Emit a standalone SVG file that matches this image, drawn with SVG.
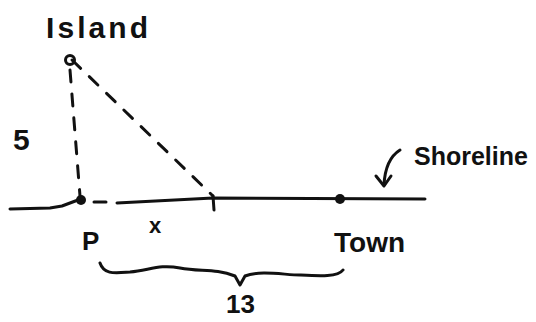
<svg xmlns="http://www.w3.org/2000/svg" width="536" height="322" viewBox="0 0 536 322">
<style>
.ln{fill:none;stroke:#111;stroke-width:3;stroke-linecap:round;stroke-linejoin:round}
.dash{stroke-dasharray:12 12}
.t{font-family:"Liberation Sans",Arial,sans-serif;fill:#111;font-weight:bold}
</style>
<rect width="536" height="322" fill="#fff"/>
<g id="connectors">
<path class="ln" d="M10,209 L50,208 L62,206 L78,200"/>
<path class="ln dash" d="M94,202 L117,202"/>
<path class="ln" d="M117,203 L213,198 L425,199"/>
<path class="ln dash" d="M70,70 L80,196"/>
<path class="ln dash" d="M72,60 L213,196"/>
<path class="ln" d="M213,196 L214,210"/>
<path class="ln" d="M400,150 C392,155 385,165 384,185"/>
<path class="ln" d="M376,176 L384,186 L391,176"/>
<path class="ln" d="M100,263 C104,275 115,273 130,272 C150,270 160,264 180,268 C200,272 215,268 235,276 L240,285 L245,276 C260,270 285,275 300,275 C320,276 338,277 343,270"/>
</g>
<g id="island">
<circle cx="70" cy="60" r="4.5" fill="none" stroke="#111" stroke-width="3"/>
<text class="t" x="46" y="38" font-size="30" textLength="102" lengthAdjust="spacing">Island</text>
</g>
<g id="p">
<circle cx="81" cy="200" r="5" fill="#111"/>
<text class="t" x="82" y="250" font-size="26">P</text>
</g>
<g id="town">
<circle cx="340" cy="199" r="5" fill="#111"/>
<text class="t" x="334" y="252" font-size="28">Town</text>
</g>
<g id="labels">
<text class="t" x="13" y="150" font-size="30">5</text>
<text class="t" x="149" y="233" font-size="22">x</text>
<text class="t" x="414" y="165" font-size="25">Shoreline</text>
<text class="t" x="226" y="313" font-size="26">13</text>
</g>
</svg>
